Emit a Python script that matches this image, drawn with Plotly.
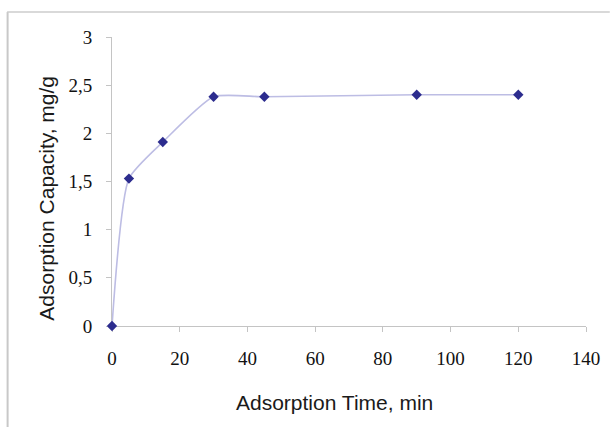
import plotly.graph_objects as go

time_min = [0, 5, 15, 30, 45, 90, 120]
capacity = [0, 1.53, 1.91, 2.38, 2.38, 2.40, 2.40]

x_tickvals = [0, 20, 40, 60, 80, 100, 120, 140]
x_ticktext = ["0", "20", "40", "60", "80", "100", "120", "140"]
y_tickvals = [0, 0.5, 1, 1.5, 2, 2.5, 3]
y_ticktext = ["0", "0,5", "1", "1,5", "2", "2,5", "3"]

x_title = "Adsorption Time, min"
y_title = "Adsorption Capacity, mg/g"

W, H = 612, 427
ml, mr, mt, mb = 112, 21, 37, 101
pw, ph = W - ml - mr, H - mt - mb

def px_to_paper_x(px):
    return (px - ml) / pw

def px_to_paper_y(py):
    return (H - mb - py) / ph

fig = go.Figure()
fig.add_trace(go.Scatter(
    x=time_min, y=capacity, mode="lines+markers",
    line=dict(shape="spline", smoothing=0.55, color="#bdbde4", width=1.6),
    marker=dict(symbol="diamond", size=8, color="#2c2c8e"),
    showlegend=False, cliponaxis=False,
))

tickfont = dict(family="Liberation Serif", size=19, color="#111111")
titlefont = dict(family="Liberation Sans", size=21, color="#1a1a1a")

fig.update_layout(
    width=W, height=H,
    margin=dict(l=ml, r=mr, t=mt, b=mb),
    paper_bgcolor="white", plot_bgcolor="white",
    xaxis=dict(
        range=[0, 140], tickvals=x_tickvals, ticktext=x_ticktext,
        showgrid=False, zeroline=False, showline=True, linecolor="#c4c4c4", linewidth=1,
        ticks="outside", ticklen=5, tickcolor="#c4c4c4", ticklabelstandoff=10,
        tickfont=tickfont, layer="below traces",
    ),
    yaxis=dict(
        range=[0, 3], tickvals=y_tickvals, ticktext=y_ticktext,
        showgrid=False, zeroline=False, showline=True, linecolor="#c4c4c4", linewidth=1,
        ticks="outside", ticklen=5, tickcolor="#c4c4c4", ticklabelstandoff=10,
        tickfont=tickfont, layer="below traces",
    ),
    annotations=[
        dict(text=x_title, xref="paper", yref="paper",
             x=px_to_paper_x(337), y=px_to_paper_y(403),
             xanchor="center", yanchor="middle", showarrow=False, font=titlefont),
        dict(text=y_title, xref="paper", yref="paper", textangle=-90,
             x=px_to_paper_x(45), y=px_to_paper_y(198),
             xanchor="center", yanchor="middle", showarrow=False, font=titlefont),
    ],
    shapes=[
        dict(type="line", xref="paper", yref="paper",
             x0=px_to_paper_x(6.5), x1=px_to_paper_x(6.5),
             y0=px_to_paper_y(12), y1=px_to_paper_y(430),
             line=dict(color="#c8c8c8", width=2)),
        dict(type="line", xref="paper", yref="paper",
             x0=px_to_paper_x(6), x1=px_to_paper_x(615),
             y0=px_to_paper_y(12), y1=px_to_paper_y(12),
             line=dict(color="#cccccc", width=1.5)),
    ],
)

fig.write_html("out.html")
